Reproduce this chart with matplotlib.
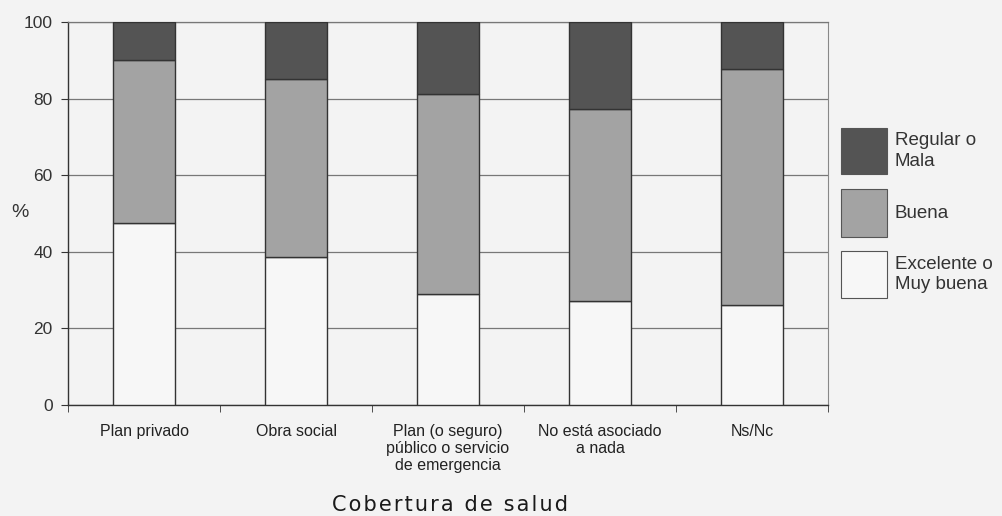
import matplotlib
matplotlib.use("Agg")
import matplotlib.pyplot as plt
from matplotlib.patches import Rectangle
import numpy as np

# Datos
categorias = ["Plan privado", "Obra social",
              "Plan (o seguro)\npúblico o servicio\nde emergencia",
              "No está asociado\na nada", "Ns/Nc"]
excelente = [47.4, 38.7, 29.1, 27.1, 26.0]
buena = [42.8, 46.4, 52.1, 50.2, 61.7]
regular = [9.8, 14.9, 18.8, 22.7, 12.3]
series = ["Excelente o\nMuy buena", "Buena", "Regular o\nMala"]
titulo_x = "Cobertura de salud"

colores = ["#f7f7f7", "#a3a3a3", "#545454"]
fondo = "#f3f3f3"
W, H = 1002, 516

plt.rcParams['font.family'] = ['Liberation Sans', 'DejaVu Sans']

fig = plt.figure(figsize=(W / 100, H / 100), dpi=100, facecolor=fondo)
ax = fig.add_axes([68 / W, 1 - 405 / H, 760 / W, 383 / H])
ax.set_facecolor(fondo)

x = np.arange(len(categorias))
ancho = 0.41
base = np.zeros(len(categorias))
for valores, color in zip([excelente, buena, regular], colores):
    ax.bar(x, valores, ancho, bottom=base, color=color,
           edgecolor="#333333", linewidth=1.0, zorder=3)
    base += np.array(valores)

ax.set_xlim(-0.5, len(categorias) - 0.5)
ax.set_ylim(0, 100)
ax.set_yticks([0, 20, 40, 60, 80, 100])
ax.yaxis.grid(True, color="#777777", linewidth=0.9, zorder=0)
ax.set_axisbelow(True)

# Etiquetas del eje x centradas, marcas entre categorias
ax.set_xticks(x)
ax.set_xticklabels(categorias, fontsize=11.5, linespacing=1.15,
                   color="#222222", va="top")
ax.tick_params(axis="x", which="major", length=0, pad=14)
ax.set_xticks(np.arange(-0.5, len(categorias)), minor=True)
ax.tick_params(axis="x", which="minor", length=5, color="#333333", direction="out")
ax.tick_params(axis="y", length=5, color="#333333", labelsize=12.5,
               labelcolor="#333333", pad=6)

for lado in ["left", "bottom"]:
    ax.spines[lado].set_color("#333333")
    ax.spines[lado].set_linewidth(1.0)
ax.spines["right"].set_color("#888888")
ax.spines["right"].set_linewidth(0.8)
ax.spines["top"].set_color("#777777")
ax.spines["top"].set_linewidth(0.9)

fig.text(20 / W, 1 - 212 / H, "%", fontsize=14, color="#333333",
         ha="center", va="center")
# titulo del eje x con letras espaciadas
fig.text(450 / W, 1 - 505 / H, "\u200a".join(titulo_x), fontsize=15,
         family=['DejaVu Sans'], color="#1a1a1a", ha="center", va="center")

# Leyenda dibujada a mano (Regular arriba)
cajas = [(251, 298), (189, 237), (128, 174)]
for (y0, y1), color, nombre in zip(cajas, colores, series):
    fig.patches.append(Rectangle((841 / W, 1 - y1 / H), 46 / W, (y1 - y0) / H,
                                 transform=fig.transFigure, facecolor=color,
                                 edgecolor="#555555", linewidth=0.8))
    fig.text(895 / W, 1 - (y0 + y1) / 2 / H, nombre, fontsize=13.5,
             color="#333333", ha="left", va="center", linespacing=1.3)

fig.savefig("out.png", dpi=100, facecolor=fondo)
